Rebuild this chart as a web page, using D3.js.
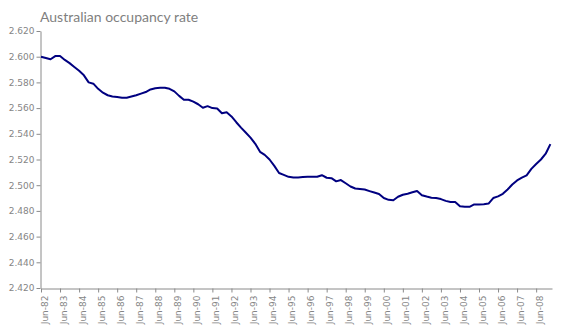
<!DOCTYPE html>
<html>
<head>
<meta charset="utf-8">
<script src="https://cdn.jsdelivr.net/npm/d3@7"></script>
<style>
  html, body { margin: 0; padding: 0; background: #fff; }
  svg { display: block; }
</style>
</head>
<body>
<svg id="chart" width="562" height="330"></svg>
<script>
// Quarterly readings, starting June 1982
const startYear = 1982;
const startMonth = 5; // June
const occupancy = [
  2.600, 2.599, 2.598, 2.6005, 2.6005, 2.5975, 2.595, 2.592, 2.589, 2.5855,
  2.580, 2.579, 2.575, 2.572, 2.570, 2.569, 2.5686, 2.568, 2.568, 2.569,
  2.570, 2.5713, 2.5725, 2.5745, 2.5755, 2.5758, 2.5758, 2.575, 2.573, 2.5695,
  2.5665, 2.5665, 2.565, 2.563, 2.5603, 2.5615, 2.560, 2.5597, 2.556, 2.5567,
  2.5535, 2.549, 2.5448, 2.541, 2.537, 2.5322, 2.526, 2.5236, 2.520, 2.515,
  2.5095, 2.508, 2.5065, 2.506, 2.506, 2.5063, 2.5065, 2.5065, 2.5066, 2.5078,
  2.5058, 2.5055, 2.503, 2.504, 2.5015, 2.499, 2.4974, 2.497, 2.4966, 2.4954,
  2.4943, 2.4932, 2.490, 2.4886, 2.4883, 2.491, 2.4926, 2.4934, 2.4945, 2.4955,
  2.4922, 2.4912, 2.4903, 2.490, 2.4892, 2.4878, 2.487, 2.487, 2.4837, 2.4833,
  2.4832, 2.485, 2.485, 2.4852, 2.4857, 2.490, 2.4913, 2.4933, 2.4967, 2.5005,
  2.5037, 2.5059, 2.5077, 2.5127, 2.5165, 2.520, 2.5245, 2.532
];
const yTicks = [2.42, 2.44, 2.46, 2.48, 2.50, 2.52, 2.54, 2.56, 2.58, 2.60, 2.62];
const labelYears = d3.range(1982, 2009);
const title = "Australian occupancy rate";

const data = occupancy.map((v, i) => ({
  date: new Date(startYear, startMonth + i * 3, 1),
  value: v
}));

const svg = d3.select("#chart");
const plotLeft = 41, plotRight = 552, plotTop = 31, plotBottom = 288;

const x = d3.scaleTime()
  .domain([new Date(1982, 5, 1), new Date(2009, 3, 1)])
  .range([plotLeft, plotRight]);
const y = d3.scaleLinear()
  .domain([2.42, 2.62])
  .range([plotBottom, plotTop]);

const grey = "#8a8a8a";
const labelGrey = "#858585";
const labelFont = "'DejaVu Sans', Verdana, sans-serif";

// Title
svg.append("text")
  .attr("x", 40)
  .attr("y", 22)
  .attr("font-family", "Lato, 'Open Sans', sans-serif")
  .attr("font-size", 14)
  .attr("fill", "#7f7f7f")
  .text(title);

// Y axis
const yAxis = svg.append("g")
  .attr("transform", `translate(${plotLeft - 0.5},0)`)
  .call(d3.axisLeft(y).tickValues(yTicks).tickFormat(d3.format(".3f")).tickSize(4).tickSizeOuter(0));
yAxis.select(".domain").attr("stroke", grey);
yAxis.selectAll(".tick line").attr("stroke", grey);
yAxis.selectAll(".tick text")
  .attr("font-family", labelFont)
  .attr("font-size", 9)
  .attr("fill", labelGrey)
  .attr("x", -6);

// X axis
const tickDates = labelYears.map(yr => new Date(yr, 5, 1));
const xAxis = svg.append("g")
  .attr("transform", `translate(0,${plotBottom + 0.5})`)
  .call(d3.axisBottom(x).tickValues(tickDates).tickFormat(d3.timeFormat("%b-%y")).tickSize(4).tickSizeOuter(0));
xAxis.select(".domain").attr("stroke", grey);
xAxis.selectAll(".tick line").attr("stroke", grey);
xAxis.selectAll(".tick text")
  .attr("font-family", labelFont)
  .attr("font-size", 9)
  .attr("fill", labelGrey)
  .attr("text-anchor", "end")
  .attr("transform", "rotate(-90)")
  .attr("x", -7)
  .attr("y", 3)
  .attr("dy", "0.35em");

// Series line
svg.append("path")
  .datum(data)
  .attr("fill", "none")
  .attr("stroke", "#000080")
  .attr("stroke-width", 2)
  .attr("stroke-linejoin", "round")
  .attr("d", d3.line().x(d => x(d.date)).y(d => y(d.value)));
</script>
</body>
</html>
